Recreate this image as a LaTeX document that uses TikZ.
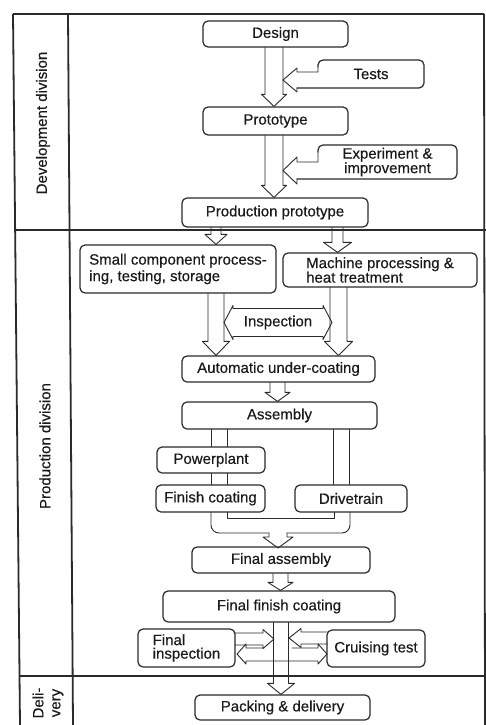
\documentclass[tikz,border=0pt]{standalone}
\usepackage{fontspec}
\setmainfont{Liberation Sans}[FakeBold=0.35]
\usetikzlibrary{calc}
\definecolor{ink}{HTML}{2A2A2A}
\definecolor{txt}{HTML}{1A1A1A}
\newcommand\vdarrow[6]{\draw[arr] let \p1=(#2.south), \p2=(#3.north) in (#1pt-#4pt,\y1) -- (#1pt-#4pt,\y2+#6pt) -- (#1pt-#5pt,\y2+#6pt) -- (#1pt,\y2) -- (#1pt+#5pt,\y2+#6pt) -- (#1pt+#4pt,\y2+#6pt) -- (#1pt+#4pt,\y1);}
\newcommand\vlines[4]{\draw[arr] let \p1=(#3.south), \p2=(#4.north) in (#1pt,\y1) -- (#1pt,\y2) (#2pt,\y1) -- (#2pt,\y2);}
\begin{document}
\begin{tikzpicture}[x=1pt,y=-1pt,
  box/.style={draw=ink, line width=1.2pt, rounded corners=5pt, inner sep=0pt, text=txt, font=\fontsize{15}{15}\selectfont, align=center},
  plain/.style={inner sep=0pt, text=txt, font=\fontsize{15}{15}\selectfont, align=center},
  arr/.style={draw=ink, line width=0.9pt, line join=round, line cap=round},
  frame/.style={draw=ink, line width=1.8pt}]
\useasboundingbox (0,0) rectangle (486,725);
\fill[white] (0,0) rectangle (486,725);

% frame
\draw[frame] (13,14) -- (484,14);
\draw[frame] (13,14) -- (20,725);
\draw[frame] (68,14) -- (73,725);
\draw[frame] (484,14) -- (485,725);
\draw[frame] (15,230) -- (486,230);
\draw[frame] (19.5,676) -- (486,676);

% side labels
\node[plain, rotate=90] (ldev) at (43,123) {Development division};
\node[plain, rotate=90] (lprod) at (45,446) {Production division};
\node[plain, rotate=90, font=\fontsize{15}{17}\selectfont] (ldel) at (48,703) {Deli-\\very};

% boxes
\node[box, minimum width=145pt, minimum height=26pt] (design) at (275.5,34) {Design};
\node[plain, minimum width=106pt, minimum height=28pt] (tests) at (371,74) {Tests};
\node[box, minimum width=145pt, minimum height=28pt] (proto) at (275.5,121) {Prototype};
\node[plain, minimum width=139pt, minimum height=34pt, font=\fontsize{15}{14.5}\selectfont] (exp) at (387.5,162) {Experiment \&\\improvement};
\node[box, minimum width=186pt, minimum height=29pt] (pprot) at (275,212.5) {Production prototype};
\node[box, minimum width=196pt, minimum height=48pt, align=left, font=\fontsize{15}{16.5}\selectfont] (small) at (178,269) {Small component process-\\ing, testing, storage};
\node[box, minimum width=194pt, minimum height=34pt, align=left, font=\fontsize{15}{14.5}\selectfont] (mach) at (380,270) {Machine processing \&\\heat treatment};
\node[box, minimum width=193pt, minimum height=26pt] (auto) at (278.5,369) {Automatic under-coating};
\node[box, minimum width=195pt, minimum height=27pt] (asm) at (279.5,415.5) {Assembly};
\node[box, minimum width=108pt, minimum height=26pt] (power) at (211,460) {Powerplant};
\node[box, minimum width=109pt, minimum height=27pt] (finish) at (210.5,498.5) {Finish coating};
\node[box, minimum width=112pt, minimum height=27pt] (drive) at (351,498.5) {Drivetrain};
\node[box, minimum width=178pt, minimum height=26pt] (finasm) at (281,560) {Final assembly};
\node[box, minimum width=232pt, minimum height=31pt] (ffc) at (279,606.5) {Final finish coating};
\node[box, minimum width=97pt, minimum height=38pt, align=left, font=\fontsize{15}{13.5}\selectfont] (finsp) at (186.5,648) {Final\\inspection};
\node[box, minimum width=98pt, minimum height=37pt] (cruise) at (376,648.5) {Cruising test};
\node[box, minimum width=175pt, minimum height=25pt] (pack) at (282.5,707.5) {Packing \& delivery};

% tests box with arrow
\draw[arr, line width=1.2pt, rounded corners=5pt] (297,88) -- (424,88) -- (424,60) -- (318,60) -- (318,67);
\draw[arr] (318,67) -- (318,72) -- (297,72) -- (297,68) -- (283,80) -- (297,92) -- (297,88);
% experiment box with arrow
\draw[arr, line width=1.2pt, rounded corners=5pt] (297,179) -- (457,179) -- (457,145) -- (318,145) -- (318,152);
\draw[arr] (318,152) -- (318,162) -- (297,162) -- (297,157) -- (283,170.5) -- (297,184) -- (297,179);

% main flow
\vdarrow{274}{design}{proto}{9}{12.5}{12}
\vdarrow{274}{proto}{pprot}{9}{12.5}{12}
\vdarrow{216}{pprot}{small}{5}{11}{10}
\vdarrow{337.5}{pprot}{mach}{5.5}{14}{10}
\vdarrow{216}{small}{auto}{8}{13.5}{14}
\vdarrow{338.5}{mach}{auto}{8.5}{14}{14}
\vdarrow{277.5}{auto}{asm}{7.5}{12.5}{9}
\vlines{211}{227}{asm}{power}
\vlines{211}{227}{power}{finish}
\vlines{333}{349}{asm}{drive}
\vdarrow{280.5}{finasm}{ffc}{7.5}{12.5}{8}
\vdarrow{281}{ffc}{pack}{7.5}{13.5}{11}

% inspection double arrow
\draw[arr] (224,322.5) -- (233,305.5) -- (233,308.5) -- (323,308.5) -- (323,305.5) -- (332,322.5) -- (323,339.5) -- (323,336.5) -- (233,336.5) -- (233,339.5) -- cycle;
\node[plain] (insp) at (278,322.5) {Inspection};

% merge finish coating + drivetrain into final assembly
\draw[arr, rounded corners=8pt] (211,512) -- (211,533) -- (269,533);
\draw[arr] (269,533) -- (269,537) -- (263,537) -- (278,548) -- (293,537) -- (287,537) -- (287,533);
\draw[arr, rounded corners=8pt] (287,533) -- (350,533) -- (350,512);
\draw[arr] (227,512) -- (227,518) -- (334,518) -- (334,512);

% inspection / cruising test arrows
\draw[arr] (235,633) -- (263,633) -- (263,629.5) -- (274,639) -- (263,648.5) -- (263,645) -- (235,645);
\draw[arr] (327,632) -- (301,632) -- (301,628.5) -- (289,638) -- (301,647.5) -- (301,644) -- (327,644);
\draw[arr] (264,648) -- (246,648) -- (246,644) -- (237,654) -- (246,664) -- (246,661) -- (318,661) -- (318,664) -- (327,654) -- (318,644) -- (318,648) -- (292,648);
\end{tikzpicture}
\end{document}
